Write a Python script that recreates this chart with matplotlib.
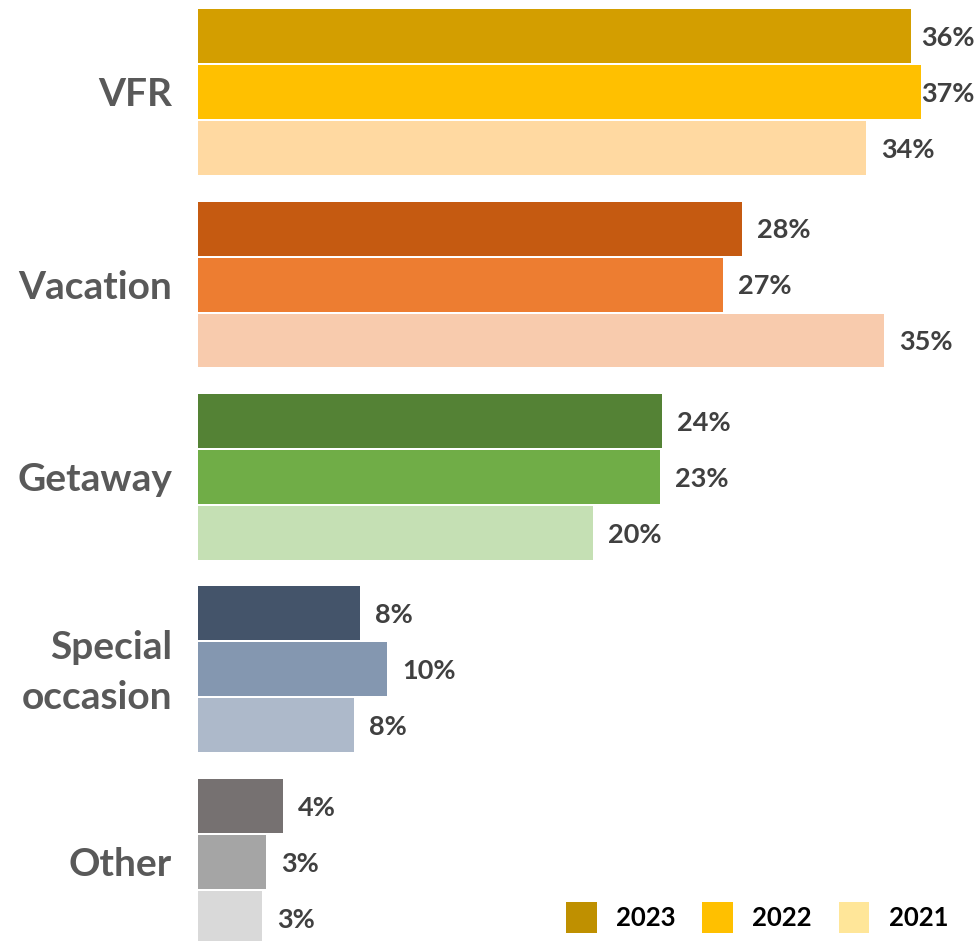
import matplotlib
matplotlib.use("Agg")
import matplotlib.pyplot as plt
from matplotlib.patches import Patch

categories = ["VFR", "Vacation", "Getaway", "Special\noccasion", "Other"]
years = ["2023", "2022", "2021"]
v2023 = [36.2, 27.6, 23.55, 8.2, 4.3]
v2022 = [36.7, 26.65, 23.45, 9.6, 3.45]
v2021 = [33.9, 34.8, 20.05, 7.9, 3.25]
labels2023 = ["36%", "28%", "24%", "8%", "4%"]
labels2022 = ["37%", "27%", "23%", "10%", "3%"]
labels2021 = ["34%", "35%", "20%", "8%", "3%"]

bar_colors = [
    ["#D39E00", "#FFC000", "#FFD9A1"],
    ["#C55A11", "#ED7D31", "#F8CBAD"],
    ["#548235", "#70AD47", "#C5E0B4"],
    ["#44546A", "#8497B0", "#ADB9CA"],
    ["#767171", "#A5A5A5", "#D9D9D9"],
]
legend_colors = ["#BF9000", "#FFC000", "#FFE699"]

plt.rcParams['font.family'] = ['Lato', 'DejaVu Sans']

W, H = 980, 941
fig = plt.figure(figsize=(W / 100, H / 100), dpi=100)
ax = fig.add_axes([198 / W, 0, 778 / W, 1])

px_per_pct = 19.7
xmax = 778 / px_per_pct
group_pitch = 3.4375
bar_h = 54 / 56
ax.set_xlim(0, xmax)
ax.set_ylim(15.161, -1.643)
ax.axis("off")

series = [v2023, v2022, v2021]
series_labels = [labels2023, labels2022, labels2021]
anns = []
for gi, cat in enumerate(categories):
    center = gi * group_pitch
    for si in range(3):
        y = center + (si - 1)
        v = series[si][gi]
        ax.barh(y, v, height=bar_h, color=bar_colors[gi][si], linewidth=0)
        a = ax.annotate(series_labels[si][gi], xy=(v, y), xytext=(11, -1.2),
                        textcoords="offset points", ha="left", va="center",
                        fontsize=19.5, fontweight="bold", color="#404040")
        anns.append((a, y))
    ax.text(-26 / px_per_pct, center + 0.05, cat, ha="right", va="center",
            fontsize=28, fontweight="bold", color="#595959",
            linespacing=1.5, multialignment="right")

fig.canvas.draw()
r = fig.canvas.get_renderer()
for a, y in anns:
    bb = a.get_window_extent(r)
    if bb.x1 > 975:
        a.xy = (xmax, y)
        a.set_position((-1, -1.2))
        a.set_ha("right")

handles = [Patch(facecolor=c, edgecolor="none", label=l) for c, l in zip(legend_colors, years)]
leg = fig.legend(handles=handles, loc="lower right", ncol=3, frameon=False,
                 bbox_to_anchor=(948 / W, 8 / H), borderaxespad=0, borderpad=0,
                 handlelength=1.2, handleheight=1.48, handletextpad=0.74,
                 columnspacing=1.05, prop={"size": 18.5, "weight": "bold"})
for t in leg.get_texts():
    t.set_color("black")

fig.savefig("out.png", dpi=100)
